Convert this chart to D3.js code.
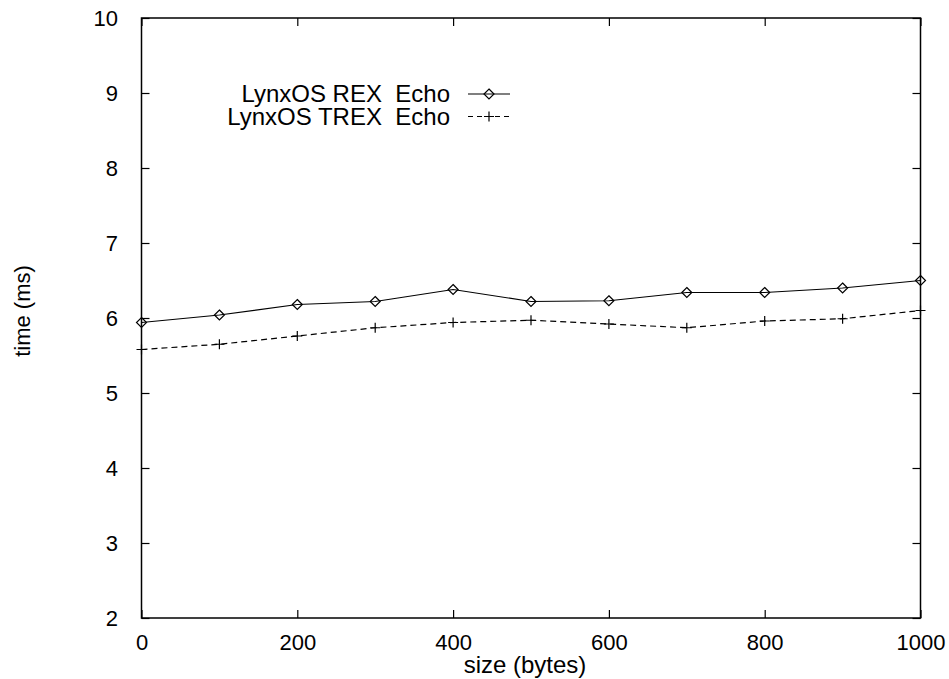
<!DOCTYPE html>
<html>
<head>
<meta charset="utf-8">
<script src="https://cdn.jsdelivr.net/npm/d3@7"></script>
<style>
  body { margin: 0; background: #fff; }
  text { font-family: "Liberation Sans", Arial, sans-serif; fill: #000; white-space: pre; }
</style>
</head>
<body>
<div id="chart"></div>
<script>
const sizes = [0, 100, 200, 300, 400, 500, 600, 700, 800, 900, 1000];
const rexEcho = [5.94, 6.04, 6.18, 6.22, 6.38, 6.22, 6.23, 6.34, 6.34, 6.40, 6.50];
const trexEcho = [5.58, 5.65, 5.76, 5.87, 5.94, 5.97, 5.92, 5.87, 5.96, 5.99, 6.10];
const xTicks = [0, 200, 400, 600, 800, 1000];
const yTicks = [2, 3, 4, 5, 6, 7, 8, 9, 10];
const seriesNames = ['LynxOS REX  Echo', 'LynxOS TREX  Echo'];

const width = 949;
const height = 679;
const margin = { top: 18, right: 28.5, bottom: 61, left: 141.5 };
const innerWidth = width - margin.left - margin.right;
const innerHeight = height - margin.top - margin.bottom;

const svg = d3.select('#chart')
  .append('svg')
  .attr('width', width)
  .attr('height', height);

const chart = svg.append('g')
  .attr('transform', `translate(${margin.left},${margin.top})`);

const xScale = d3.scaleLinear().domain([0, 1000]).range([0, innerWidth]);
const yScale = d3.scaleLinear().domain([2, 10]).range([innerHeight, 0]);

const tickLen = 8;
const tickFont = 22;
const labelFont = 24;

// gnuplot style: ticks point inward and are mirrored on all sides
chart.append('g')
  .attr('transform', `translate(0,${innerHeight})`)
  .call(d3.axisBottom(xScale).tickValues(xTicks).tickFormat(d3.format('d'))
    .tickSize(-tickLen).tickPadding(tickLen + 8))
  .call(g => g.select('.domain').remove());
chart.append('g')
  .call(d3.axisTop(xScale).tickValues(xTicks).tickSize(-tickLen).tickFormat(''))
  .call(g => g.select('.domain').remove())
  .call(g => g.selectAll('text').remove());
chart.append('g')
  .call(d3.axisLeft(yScale).tickValues(yTicks).tickFormat(d3.format('d'))
    .tickSize(-tickLen).tickPadding(tickLen + 15.5))
  .call(g => g.select('.domain').remove());
chart.append('g')
  .attr('transform', `translate(${innerWidth},0)`)
  .call(d3.axisRight(yScale).tickValues(yTicks).tickSize(-tickLen).tickFormat(''))
  .call(g => g.select('.domain').remove())
  .call(g => g.selectAll('text').remove());

chart.selectAll('.tick line').attr('stroke', '#000').attr('stroke-width', 1.2);
chart.selectAll('.tick text')
  .style('font-size', `${tickFont}px`)
  .style('font-family', '"Liberation Sans", Arial, sans-serif')
  .attr('fill', '#000');

chart.append('rect')
  .attr('width', innerWidth)
  .attr('height', innerHeight)
  .attr('fill', 'none')
  .attr('stroke', '#000')
  .attr('stroke-width', 1.5);

// Axis titles
svg.append('text')
  .attr('x', margin.left + innerWidth / 2 - 6)
  .attr('y', 673)
  .attr('text-anchor', 'middle')
  .style('font-size', `${labelFont}px`)
  .text('size (bytes)');

svg.append('text')
  .attr('transform', `translate(30,311) rotate(-90)`)
  .attr('text-anchor', 'middle')
  .style('font-size', `${tickFont}px`)
  .text('time (ms)');

const series = [
  { name: seriesNames[0], values: rexEcho, dash: null, marker: 'diamond' },
  { name: seriesNames[1], values: trexEcho, dash: '6,4', marker: 'plus' },
];

const line = d3.line()
  .x((d, i) => xScale(sizes[i]))
  .y(d => yScale(d));

function drawMarker(g, type, x, y) {
  const r = 5;
  if (type === 'diamond') {
    g.append('path')
      .attr('d', `M${x},${y - r}L${x + r},${y}L${x},${y + r}L${x - r},${y}Z`)
      .attr('fill', 'none')
      .attr('stroke', '#000')
      .attr('stroke-width', 1.2);
  } else {
    g.append('path')
      .attr('d', `M${x - r},${y}H${x + r}M${x},${y - r}V${y + r}`)
      .attr('stroke', '#000')
      .attr('stroke-width', 1.2);
  }
}

series.forEach((s, k) => {
  const g = chart.append('g');
  g.append('path')
    .datum(s.values)
    .attr('d', line)
    .attr('fill', 'none')
    .attr('stroke', '#000')
    .attr('stroke-width', 1.2)
    .attr('stroke-dasharray', s.dash);
  s.values.forEach((v, i) => drawMarker(g, s.marker, xScale(sizes[i]), yScale(v)));

  // Legend entry
  const ly = 94 + k * 22.5;
  const leg = svg.append('g');
  leg.append('text')
    .attr('x', 450)
    .attr('y', ly)
    .attr('dy', '0.35em')
    .attr('text-anchor', 'end')
    .style('font-size', `${labelFont}px`)
    .text(s.name);
  leg.append('line')
    .attr('x1', 468).attr('x2', 510)
    .attr('y1', ly).attr('y2', ly)
    .attr('stroke', '#000')
    .attr('stroke-width', 1.2)
    .attr('stroke-dasharray', s.dash ? '5,4' : null);
  drawMarker(leg, s.marker, 489, ly);
});
</script>
</body>
</html>
